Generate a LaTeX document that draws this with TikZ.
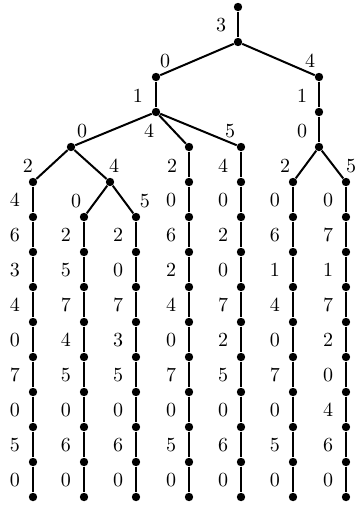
\documentclass[tikz,border=0pt]{standalone}
\usepackage{amsmath}
\usetikzlibrary{positioning}
\begin{document}
\begin{tikzpicture}[x=0.5pt,y=-0.5pt,
    dot/.style={circle,fill=black,inner sep=0pt,minimum size=4.2pt},
    edge/.style={line width=1pt},
    lab/.style={inner sep=0pt}]
   \useasboundingbox (0,0) rectangle (356,510);
   % top of the tree
   \node[dot] (r) at (238,7) {};
   \node[dot] (a) at (238,42) {};
   \node[dot] (b) at (156,77) {};
   \node[dot] (c) at (319,77) {};
   \node[dot] (d) at (156,112) {};
   \node[dot] (e) at (319,112) {};
   \node[dot] (f) at (71,147) {};
   \node[dot] (g) at (189,147) {};
   \node[dot] (h) at (241,147) {};
   \node[dot] (i) at (319,147) {};
   \node[dot] (j) at (110,182) {};
   % the seven columns: index/x/first level
   \foreach \k/\x/\t in {1/33/5,2/84/6,3/136/6,4/189/5,5/241/5,6/293/5,7/346/5}
     \foreach \l in {\t,...,14}
       \node[dot] (n\k-\l) at (\x,{7+35*\l}) {};
   \draw[edge] (r) -- (a) node[lab] at (221,25) {$3$};
   \draw[edge] (a) -- (b) node[lab] at (165,61) {$0$};
   \draw[edge] (a) -- (c) node[lab] at (310,61) {$4$};
   \draw[edge] (b) -- (d) node[lab] at (138,96) {$1$};
   \draw[edge] (c) -- (e) node[lab] at (302,96) {$1$};
   \draw[edge] (d) -- (f) node[lab] at (82,131) {$0$};
   \draw[edge] (d) -- (g) node[lab] at (149,131) {$4$};
   \draw[edge] (d) -- (h) node[lab] at (230,131) {$5$};
   \draw[edge] (e) -- (i) node[lab] at (302,131) {$0$};
   \draw[edge] (f) -- (n1-5) node[lab] at (28,166) {$2$};
   \draw[edge] (f) -- (j) node[lab] at (114,166) {$4$};
   \draw[edge] (g) -- (n4-5) node[lab] at (172,166) {$2$};
   \draw[edge] (h) -- (n5-5) node[lab] at (223,166) {$4$};
   \draw[edge] (i) -- (n6-5) node[lab] at (285,166) {$2$};
   \draw[edge] (i) -- (n7-5) node[lab] at (351,166) {$5$};
   \draw[edge] (j) -- (n2-6) node[lab] at (76,201) {$0$};
   \draw[edge] (j) -- (n3-6) node[lab] at (145,201) {$5$};
   % vertical chains with their labels
   \foreach \k/\t/\labs in {1/5/{4,6,3,4,0,7,0,5,0},2/6/{2,5,7,4,5,0,6,0},3/6/{2,0,7,3,5,0,6,0},
       4/5/{0,6,2,4,0,7,0,5,0},5/5/{0,2,0,7,2,5,0,6,0},6/5/{0,6,1,4,0,7,0,5,0},7/5/{0,7,1,7,2,0,4,6,0}}
     \foreach \v [count=\c from \t] in \labs {
       \pgfmathtruncatemacro\m{\c+1}
       \draw[edge] (n\k-\c) -- (n\k-\m) node[lab,midway,xshift=-9pt,yshift=-0.5pt] {$\v$};
     }
\end{tikzpicture}
\end{document}
